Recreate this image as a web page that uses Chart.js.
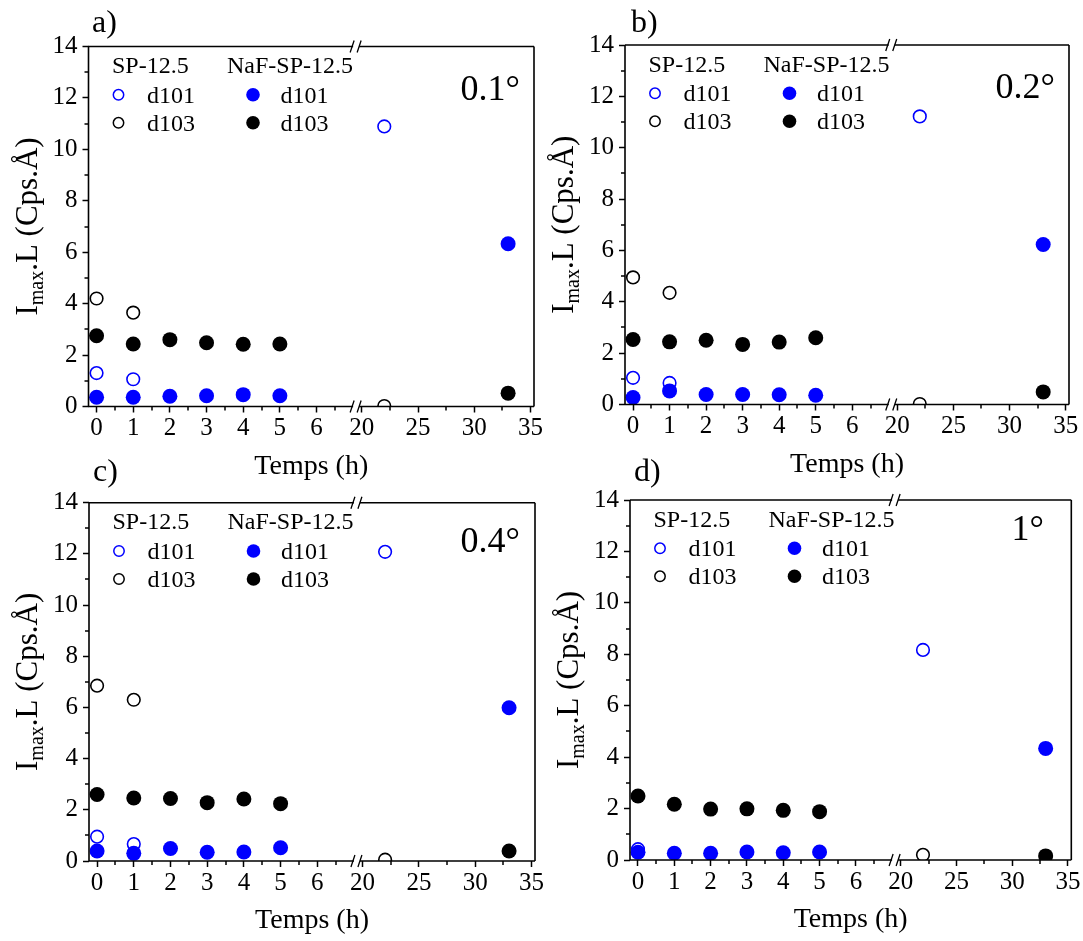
<!DOCTYPE html>
<html>
<head>
<meta charset="utf-8">
<script src="https://cdn.jsdelivr.net/npm/chart.js@4.4.1/dist/chart.umd.min.js"></script>
<style>
  html, body { margin: 0; padding: 0; background: #ffffff; }
  body { width: 1083px; height: 941px; position: relative; overflow: hidden; }
  canvas { position: absolute; }
</style>
</head>
<body>
<canvas id="ca"></canvas>
<canvas id="cb"></canvas>
<canvas id="cc"></canvas>
<canvas id="cd"></canvas>
<script>
// ---------------- DATA ----------------
const spHours  = [0, 1, 22];                 // SP-12.5 sampling times (h)
const nafHours = [0, 1, 2, 3, 4, 5, 33];     // NaF-SP-12.5 sampling times (h)

const xTicksLeft  = [0, 1, 2, 3, 4, 5, 6];
const xTicksRight = [20, 25, 30, 35];
const xMinorLeft  = [0.5, 1.5, 2.5, 3.5, 4.5, 5.5, 6.5];
const xMinorRight = [22.5, 27.5, 32.5];
const yTicks = [0, 2, 4, 6, 8, 10, 12, 14];
const yMinor = [1, 3, 5, 7, 9, 11, 13];

const panelLabels = ['a)', 'b)', 'c)', 'd)'];
const angleLabels = ['0.1°', '0.2°', '0.4°', '1°'];
const groupNames  = ['SP-12.5', 'NaF-SP-12.5'];
const peakNames   = ['d101', 'd103'];
const xTitle = 'Temps (h)';

// panel a) 0.1°
const sp101_a  = [1.30, 1.06, 10.89];
const sp103_a  = [4.20, 3.65, 0.02];
const naf101_a = [0.36, 0.36, 0.40, 0.42, 0.46, 0.42, 6.33];
const naf103_a = [2.75, 2.43, 2.60, 2.48, 2.42, 2.43, 0.52];
// panel b) 0.2°
const sp101_b  = [1.04, 0.84, 11.22];
const sp103_b  = [4.95, 4.35, 0.02];
const naf101_b = [0.27, 0.53, 0.39, 0.39, 0.38, 0.36, 6.23];
const naf103_b = [2.53, 2.44, 2.50, 2.34, 2.43, 2.60, 0.49];
// panel c) 0.4°
const sp101_c  = [0.95, 0.66, 12.08];
const sp103_c  = [6.85, 6.30, 0.05];
const naf101_c = [0.39, 0.30, 0.49, 0.34, 0.35, 0.52, 5.99];
const naf103_c = [2.60, 2.46, 2.44, 2.28, 2.42, 2.24, 0.39];
// panel d) 1°
const sp101_d  = [0.42, null, 8.17];
const sp103_d  = [null, null, 0.20];
const naf101_d = [0.30, 0.26, 0.26, 0.31, 0.28, 0.31, 4.34];
const naf103_d = [2.49, 2.17, 1.98, 1.99, 1.93, 1.88, 0.16];

const BREAK_AT = 10; // values above this go on the right-hand (broken) axis segment

// ---------------- STYLE ----------------
const FONT = '"Liberation Serif", "Times New Roman", serif';
const BLUE = '#0000ff';
const BLACK = '#000000';
const X_LEFT  = {min: -0.22, max: 7.08, px: 36.8};
const X_RIGHT = {min: 19.5,  max: 35.3, px: 11.3};

const layouts = [
  {id: 'ca', left: 0,   top: 0,   w: 560, h: 490, L: 88.5, R: 534,   T: 46.5, B: 406.5, lx: 92, ly: 32, adx: -14,   ady: 53},
  {id: 'cb', left: 540, top: 0,   w: 543, h: 490, L: 85,   R: 529,   T: 45,   B: 404.5, lx: 91, ly: 32, adx: -14,   ady: 53},
  {id: 'cc', left: 0,   top: 445, w: 560, h: 496, L: 89,   R: 535,   T: 57.7, B: 416,   lx: 93, ly: 36, adx: -15,   ady: 49},
  {id: 'cd', left: 540, top: 445, w: 543, h: 496, L: 90,   R: 534.5, T: 55,   B: 415,   lx: 94, ly: 36, adx: -27.5, ady: 40}
];
const panelData = [
  {sp101: sp101_a, sp103: sp103_a, naf101: naf101_a, naf103: naf103_a},
  {sp101: sp101_b, sp103: sp103_b, naf101: naf101_b, naf103: naf103_b},
  {sp101: sp101_c, sp103: sp103_c, naf101: naf101_c, naf103: naf103_c},
  {sp101: sp101_d, sp103: sp103_d, naf101: naf101_d, naf103: naf103_d}
];

function pts(hours, vals, side) {
  const out = [];
  hours.forEach((h, i) => {
    const v = vals[i];
    if (v === null || v === undefined) return;
    if ((side === 'R') === (h > BREAK_AT)) out.push({x: h, y: v});
  });
  return out;
}

function makeDatasets(d) {
  const series = [
    {vals: d.naf101, hours: nafHours, color: BLUE,  filled: true,  order: 0},
    {vals: d.naf103, hours: nafHours, color: BLACK, filled: true,  order: 0},
    {vals: d.sp101,  hours: spHours,  color: BLUE,  filled: false, order: 1},
    {vals: d.sp103,  hours: spHours,  color: BLACK, filled: false, order: 1}
  ];
  const ds = [];
  series.forEach(s => ['L', 'R'].forEach(side => {
    ds.push({
      data: pts(s.hours, s.vals, side),
      xAxisID: side === 'L' ? 'xL' : 'xR',
      yAxisID: 'y',
      showLine: false,
      order: s.order,
      pointStyle: 'circle',
      pointRadius: s.filled ? 7.5 : 6.3,
      pointBorderWidth: s.filled ? 0 : 1.6,
      pointBackgroundColor: s.filled ? s.color : 'rgba(0,0,0,0)',
      pointBorderColor: s.color
    });
  }));
  return ds;
}

const decorPlugin = {
  id: 'decor',
  afterDraw(chart, args, opts) {
    const ctx = chart.ctx;
    const {left: L, right: R, top: T, bottom: B} = chart.chartArea;
    const xL = chart.scales.xL, xR = chart.scales.xR, y = chart.scales.y;
    const brk = xL.right;
    ctx.save();
    ctx.strokeStyle = '#000';
    ctx.lineCap = 'butt';
    // frame
    ctx.lineWidth = 1.6;
    ctx.beginPath();
    ctx.moveTo(L, T); ctx.lineTo(L, B);
    ctx.moveTo(R, T); ctx.lineTo(R, B);
    [T, B].forEach(yy => {
      ctx.moveTo(L, yy); ctx.lineTo(brk - 3, yy);
      ctx.moveTo(brk + 3, yy); ctx.lineTo(R, yy);
    });
    ctx.stroke();
    // break marks
    ctx.lineWidth = 1.3;
    ctx.beginPath();
    [T, B].forEach(yy => {
      ctx.moveTo(brk - 6, yy + 6); ctx.lineTo(brk - 2, yy - 6);
      ctx.moveTo(brk + 1, yy + 6); ctx.lineTo(brk + 5, yy - 6);
    });
    ctx.stroke();
    // minor ticks
    ctx.lineWidth = 1.5;
    ctx.beginPath();
    xMinorLeft.forEach(v => { const p = Math.round(xL.getPixelForValue(v)); ctx.moveTo(p, B); ctx.lineTo(p, B + 4); });
    xMinorRight.forEach(v => { const p = Math.round(xR.getPixelForValue(v)); ctx.moveTo(p, B); ctx.lineTo(p, B + 4); });
    yMinor.forEach(v => { const p = Math.round(y.getPixelForValue(v)); ctx.moveTo(L, p); ctx.lineTo(L - 4, p); });
    ctx.stroke();

    ctx.fillStyle = '#000';
    // panel label
    ctx.font = '32px ' + FONT;
    ctx.textAlign = 'left'; ctx.textBaseline = 'alphabetic';
    ctx.fillText(opts.label, opts.lx, opts.ly);
    // angle label
    ctx.font = '36px ' + FONT;
    ctx.textAlign = 'right';
    ctx.fillText(opts.angle, R + opts.adx, T + opts.ady);
    // x title
    ctx.font = '28px ' + FONT;
    ctx.textAlign = 'center';
    ctx.fillText(xTitle, (L + R) / 2, B + 67);
    // legend
    ctx.font = '24px ' + FONT;
    ctx.textAlign = 'left';
    ctx.fillText(groupNames[0], L + 23.5, T + 26.5);
    ctx.fillText(groupNames[1], L + 138.5, T + 26.5);
    const rows = [{name: peakNames[0], color: BLUE, cy: T + 48.3}, {name: peakNames[1], color: BLACK, cy: T + 76.3}];
    rows.forEach(r => {
      ctx.beginPath();
      ctx.arc(L + 30, r.cy, 5.2, 0, Math.PI * 2);
      ctx.strokeStyle = r.color; ctx.lineWidth = 1.5; ctx.stroke();
      ctx.beginPath();
      ctx.arc(L + 164.5, r.cy, 6.8, 0, Math.PI * 2);
      ctx.fillStyle = r.color; ctx.fill();
      ctx.fillStyle = '#000';
      ctx.fillText(r.name, L + 58.5, r.cy + 8);
      ctx.fillText(r.name, L + 192, r.cy + 8);
    });
    // y title with subscript
    ctx.save();
    ctx.translate(L - 52, (T + B) / 2);
    ctx.rotate(-Math.PI / 2);
    const big = '31px ' + FONT, small = '20px ' + FONT;
    ctx.font = big; const w1 = ctx.measureText('I').width; const w3 = ctx.measureText('.L (Cps.Å)').width;
    ctx.font = small; const w2 = ctx.measureText('max').width;
    let x = -(w1 + w2 + w3) / 2;
    ctx.textAlign = 'left';
    ctx.font = big; ctx.fillText('I', x, 0); x += w1;
    ctx.font = small; ctx.fillText('max', x, 6); x += w2;
    ctx.font = big; ctx.fillText('.L (Cps.Å)', x, 0);
    ctx.restore();
    ctx.restore();
  }
};

function tickCfg() {
  return {
    color: '#000',
    font: {family: FONT, size: 25},
    autoSkip: false,
    maxRotation: 0,
    callback: v => String(v)
  };
}
function gridCfg() {
  return {display: true, drawOnChartArea: false, drawTicks: true, tickLength: 6, tickColor: '#000', tickWidth: 1.5};
}

layouts.forEach((lay, i) => {
  const cv = document.getElementById(lay.id);
  cv.width = lay.w; cv.height = lay.h;
  cv.style.left = lay.left + 'px'; cv.style.top = lay.top + 'px';
  cv.style.width = lay.w + 'px'; cv.style.height = lay.h + 'px';
  const xH = lay.h - lay.B;
  new Chart(cv.getContext('2d'), {
    type: 'scatter',
    data: {datasets: makeDatasets(panelData[i])},
    plugins: [decorPlugin],
    options: {
      responsive: false,
      animation: false,
      devicePixelRatio: 1,
      events: [],
      layout: {padding: {left: 0, top: lay.T, right: lay.w - lay.R, bottom: 0}},
      plugins: {
        legend: {display: false},
        tooltip: {enabled: false},
        decor: {label: panelLabels[i], angle: angleLabels[i], lx: lay.lx, ly: lay.ly, adx: lay.adx, ady: lay.ady}
      },
      scales: {
        xL: {
          type: 'linear', position: 'bottom', stack: 'x',
          stackWeight: (X_LEFT.max - X_LEFT.min) * X_LEFT.px,
          min: X_LEFT.min, max: X_LEFT.max,
          afterBuildTicks: s => { s.ticks = xTicksLeft.map(v => ({value: v})); },
          afterFit: s => { s.height = xH; },
          ticks: Object.assign(tickCfg(), {padding: 1}),
          grid: gridCfg(),
          border: {display: false}
        },
        xR: {
          type: 'linear', position: 'bottom', stack: 'x',
          stackWeight: (X_RIGHT.max - X_RIGHT.min) * X_RIGHT.px,
          min: X_RIGHT.min, max: X_RIGHT.max,
          afterBuildTicks: s => { s.ticks = xTicksRight.map(v => ({value: v})); },
          afterFit: s => { s.height = xH; },
          ticks: Object.assign(tickCfg(), {padding: 1}),
          grid: gridCfg(),
          border: {display: false}
        },
        y: {
          type: 'linear', position: 'left',
          min: 0, max: 14,
          afterBuildTicks: s => { s.ticks = yTicks.map(v => ({value: v})); },
          afterFit: s => { s.width = lay.L; },
          ticks: Object.assign(tickCfg(), {padding: 5}),
          grid: gridCfg(),
          border: {display: false}
        }
      }
    }
  });
});
</script>
</body>
</html>
